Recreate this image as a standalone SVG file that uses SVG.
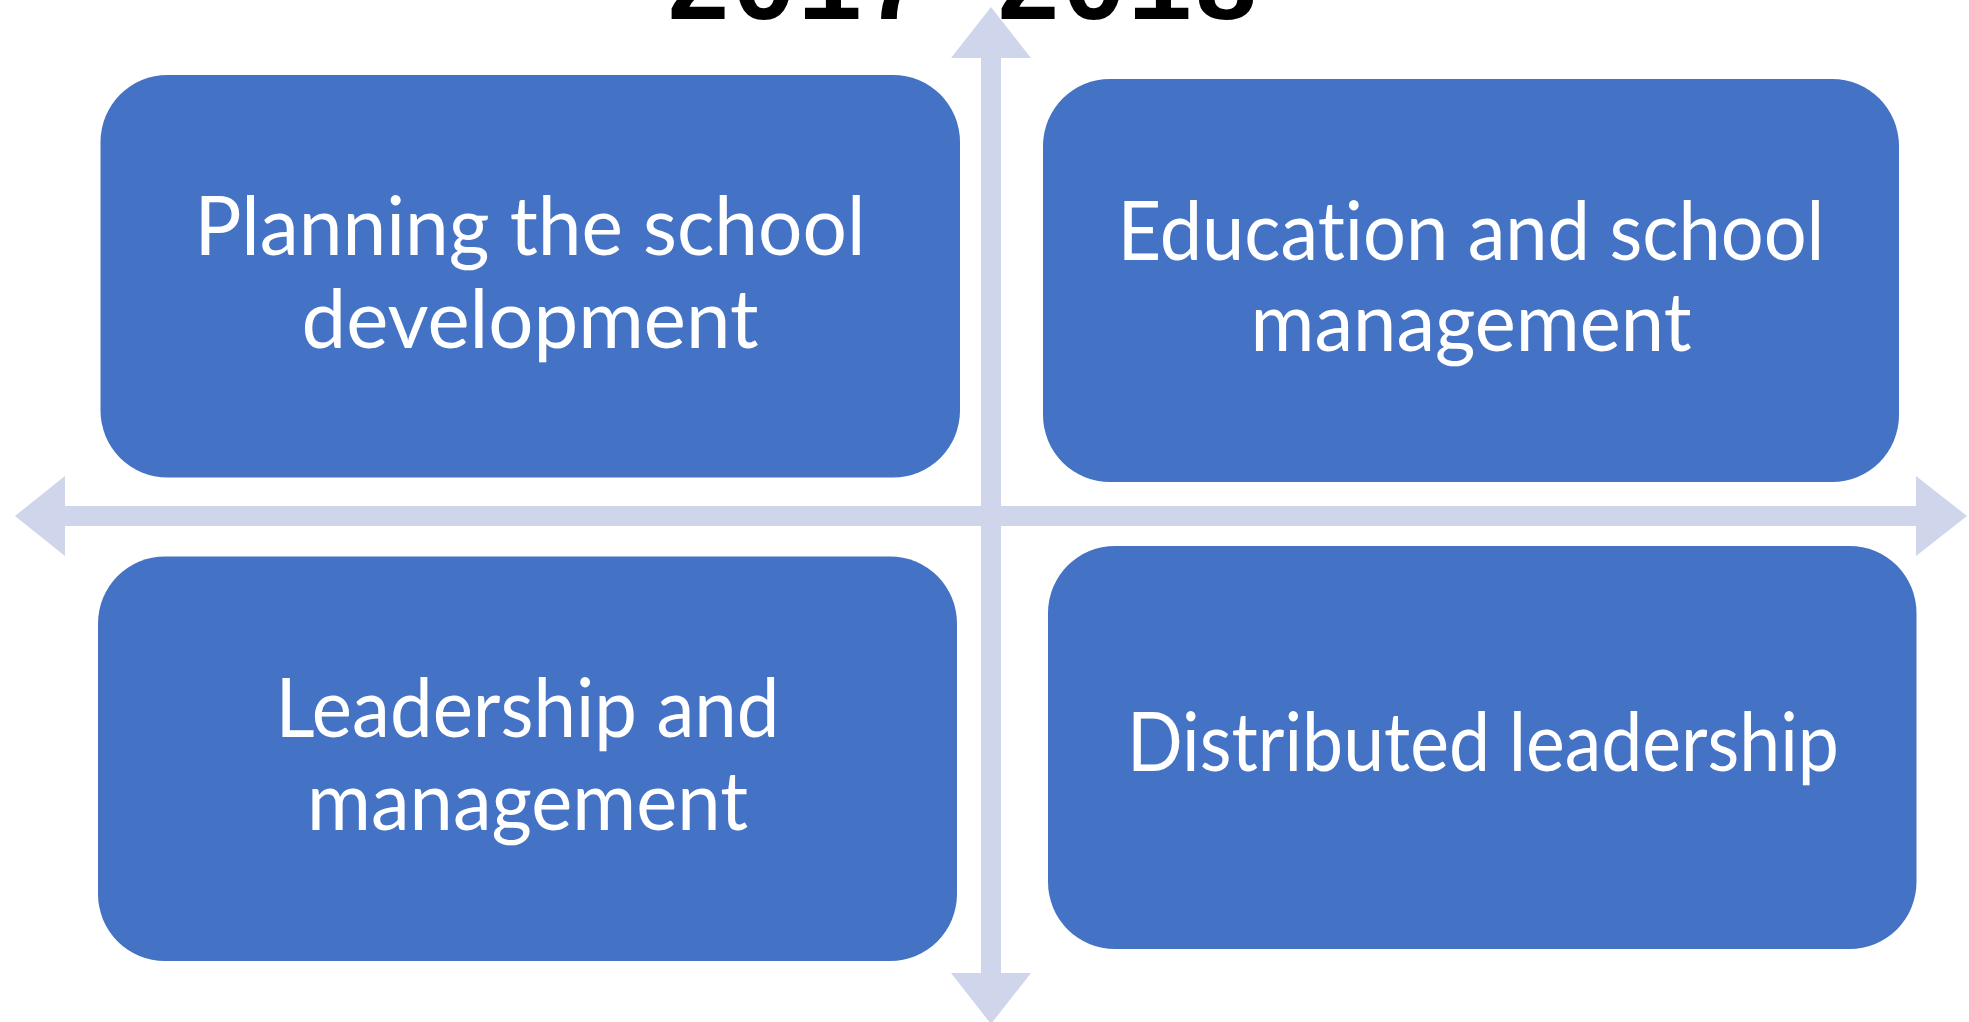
<svg xmlns="http://www.w3.org/2000/svg" width="1969" height="1022" viewBox="0 0 1969 1022">
<style>
.box{fill:#4472C4;}
.axis{fill:#CFD5EA;}
.lbl{font-family:Lato,"Liberation Sans",sans-serif;font-size:81px;fill:#FFFFFF;text-anchor:middle;font-variant-ligatures:none;font-feature-settings:"liga" 0,"clig" 0;}
.title{font-family:"Liberation Mono","Courier New",monospace;font-weight:bold;font-size:110px;fill:#000000;}
</style>
<rect width="1969" height="1022" fill="#FFFFFF"/>
<g id="connectors">
<polygon class="axis" points="15,516 65,476 65,506 1916,506 1916,476 1967,516 1916,556 1916,526 65,526 65,556"/>
<polygon class="axis" points="991,7 1031,58 1001,58 1001,973 1031,973 991,1024 951,973 981,973 981,58 951,58"/>
</g>
<g id="node-planning">
<rect class="box" x="100.5" y="75" width="859.5" height="402.5" rx="67" ry="67"/>
<text class="lbl" x="530" y="255" textLength="671" lengthAdjust="spacingAndGlyphs">Planning the school</text>
<text class="lbl" x="530" y="348" textLength="457" lengthAdjust="spacingAndGlyphs">development</text>
</g>
<g id="node-education">
<rect class="box" x="1043" y="79" width="856" height="403" rx="67" ry="67"/>
<text class="lbl" x="1471" y="260" textLength="707" lengthAdjust="spacingAndGlyphs">Education and school</text>
<text class="lbl" x="1471" y="351" textLength="441" lengthAdjust="spacingAndGlyphs">management</text>
</g>
<g id="node-leadership">
<rect class="box" x="98" y="556.5" width="859" height="404.5" rx="67" ry="67"/>
<text class="lbl" x="527.5" y="737" textLength="504" lengthAdjust="spacingAndGlyphs">Leadership and</text>
<text class="lbl" x="527.5" y="830" textLength="441" lengthAdjust="spacingAndGlyphs">management</text>
</g>
<g id="node-distributed">
<rect class="box" x="1048" y="546" width="868.5" height="403" rx="67" ry="67"/>
<text class="lbl" x="1483" y="771" textLength="712" lengthAdjust="spacingAndGlyphs">Distributed leadership</text>
</g>
<g id="title">
<text class="title" x="665" y="19">2017-2018</text>
</g>
</svg>
